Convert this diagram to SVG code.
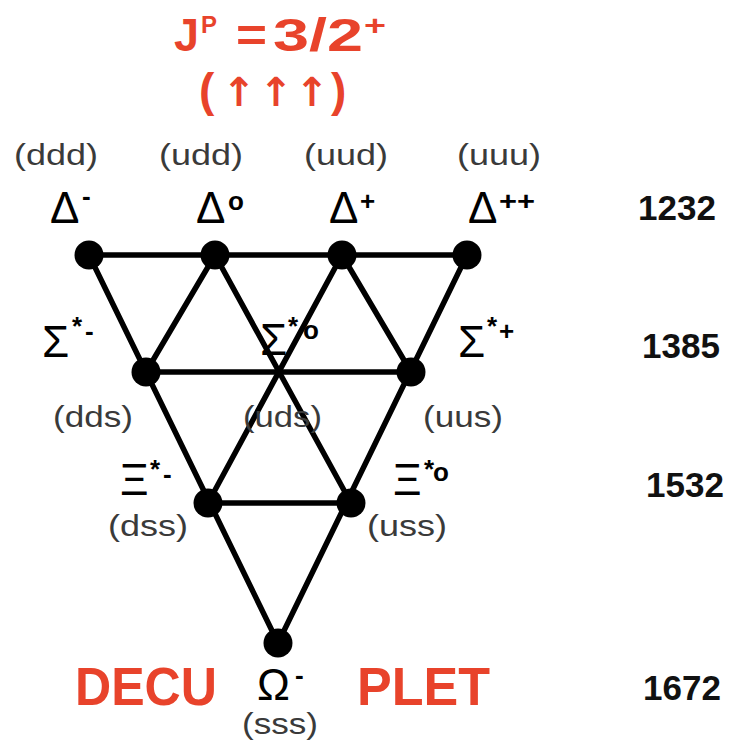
<svg xmlns="http://www.w3.org/2000/svg" width="729" height="743" viewBox="0 0 729 743">
<style>
.red{fill:#e8432b;font-family:"Liberation Sans",Arial,sans-serif;font-weight:bold}
.arr{fill:#e8432b;font-family:"DejaVu Sans",sans-serif;font-weight:bold;font-size:40px}
.q{fill:#3a3a3a;font-family:"Liberation Sans",Arial,sans-serif;font-size:30px}
.g{fill:#000;font-family:"Liberation Sans",Arial,sans-serif;font-size:44px}
.s{fill:#000;font-family:"Liberation Sans",Arial,sans-serif;font-size:26px;font-weight:bold}
.m{fill:#111;font-family:"Liberation Sans",Arial,sans-serif;font-size:35px;font-weight:bold}
.e{stroke:#000;stroke-width:5.5;fill:none;stroke-linecap:round}
.dot{fill:#000}
</style>
<rect width="729" height="743" fill="#fff"/>
<g id="title">
<text class="red" x="174" y="51" font-size="46" textLength="25" lengthAdjust="spacingAndGlyphs">J</text>
<text class="red" x="201" y="33" font-size="24" textLength="16" lengthAdjust="spacingAndGlyphs">P</text>
<text class="red" x="236" y="51" font-size="46" textLength="31" lengthAdjust="spacingAndGlyphs">=</text>
<text class="red" x="273" y="51" font-size="46" textLength="90" lengthAdjust="spacingAndGlyphs">3/2</text>
<text class="red" x="364" y="35" font-size="28" textLength="22" lengthAdjust="spacingAndGlyphs">+</text>
<text class="red" x="199" y="106" font-size="46">(</text>
<text class="arr" x="239" y="106" text-anchor="middle">↑</text>
<text class="arr" x="276" y="106" text-anchor="middle">↑</text>
<text class="arr" x="312" y="106" text-anchor="middle">↑</text>
<text class="red" x="331" y="106" font-size="46">)</text>
</g>
<g id="connectors">
<line class="e" x1="89" y1="255" x2="467" y2="255"/>
<line class="e" x1="146" y1="372" x2="411" y2="372"/>
<line class="e" x1="208" y1="503" x2="351" y2="503"/>
<line class="e" x1="89" y1="255" x2="278" y2="643"/>
<line class="e" x1="467" y1="255" x2="278" y2="643"/>
<line class="e" x1="215" y1="255" x2="146" y2="372"/>
<line class="e" x1="215" y1="255" x2="351" y2="503"/>
<line class="e" x1="342" y1="255" x2="208" y2="503"/>
<line class="e" x1="342" y1="255" x2="411" y2="372"/>
</g>
<g id="delta-minus">
<circle class="dot" cx="89" cy="255" r="14.5"/>
<text class="q" x="14" y="165" textLength="84" lengthAdjust="spacingAndGlyphs">(ddd)</text>
<text class="g" x="50" y="223">Δ</text><text class="s" x="82" y="205">-</text>
</g>
<g id="delta-zero">
<circle class="dot" cx="215" cy="255" r="14.5"/>
<text class="q" x="159" y="165" textLength="84" lengthAdjust="spacingAndGlyphs">(udd)</text>
<text class="g" x="196" y="223">Δ</text><text class="s" x="228" y="210" font-size="28">o</text>
</g>
<g id="delta-plus">
<circle class="dot" cx="342" cy="255" r="14.5"/>
<text class="q" x="304" y="165" textLength="84" lengthAdjust="spacingAndGlyphs">(uud)</text>
<text class="g" x="329" y="223">Δ</text><text class="s" x="360" y="210">+</text>
</g>
<g id="delta-plusplus">
<circle class="dot" cx="467" cy="255" r="14.5"/>
<text class="q" x="457" y="165" textLength="84" lengthAdjust="spacingAndGlyphs">(uuu)</text>
<text class="g" x="468" y="223">Δ</text><text class="s" x="499" y="210" textLength="36" lengthAdjust="spacingAndGlyphs">++</text>
</g>
<g id="sigma-minus">
<circle class="dot" cx="146" cy="372" r="14.5"/>
<text class="g" x="42" y="357">Σ</text><text class="s" x="72" y="335" font-size="20">*</text><text class="s" x="85" y="340">-</text>
<text class="q" x="53" y="427" textLength="80" lengthAdjust="spacingAndGlyphs">(dds)</text>
</g>
<g id="sigma-zero">
<text class="g" x="260" y="355">Σ</text><text class="s" x="288" y="335" font-size="20">*</text><text class="s" x="303" y="339" font-size="28">o</text>
<text class="q" x="243" y="427" textLength="79" lengthAdjust="spacingAndGlyphs">(uds)</text>
</g>
<g id="sigma-plus">
<circle class="dot" cx="411" cy="372" r="14.5"/>
<text class="g" x="458" y="357">Σ</text><text class="s" x="487" y="335" font-size="20">*</text><text class="s" x="499" y="340">+</text>
<text class="q" x="423" y="427" textLength="80" lengthAdjust="spacingAndGlyphs">(uus)</text>
</g>
<g id="xi-minus">
<circle class="dot" cx="208" cy="503" r="14.5"/>
<text class="g" x="120" y="495">Ξ</text><text class="s" x="150" y="478" font-size="20">*</text><text class="s" x="163" y="483">-</text>
<text class="q" x="108" y="536" textLength="80" lengthAdjust="spacingAndGlyphs">(dss)</text>
</g>
<g id="xi-zero">
<circle class="dot" cx="351" cy="503" r="14.5"/>
<text class="g" x="393" y="495">Ξ</text><text class="s" x="424" y="478" font-size="20">*</text><text class="s" x="433" y="481" font-size="28">o</text>
<text class="q" x="367" y="536" textLength="80" lengthAdjust="spacingAndGlyphs">(uss)</text>
</g>
<g id="omega-minus">
<circle class="dot" cx="278" cy="643" r="14.5"/>
<text class="g" x="257" y="700">Ω</text><text class="s" x="295" y="684">-</text>
<text class="q" x="242" y="734" textLength="76" lengthAdjust="spacingAndGlyphs">(sss)</text>
</g>
<g id="decuplet">
<text class="red" x="75" y="705" font-size="53" textLength="142" lengthAdjust="spacingAndGlyphs">DECU</text>
<text class="red" x="357" y="705" font-size="53" textLength="133" lengthAdjust="spacingAndGlyphs">PLET</text>
</g>
<g id="masses">
<text class="m" x="638" y="220">1232</text>
<text class="m" x="642" y="358">1385</text>
<text class="m" x="646" y="497">1532</text>
<text class="m" x="643" y="700">1672</text>
</g>
</svg>
